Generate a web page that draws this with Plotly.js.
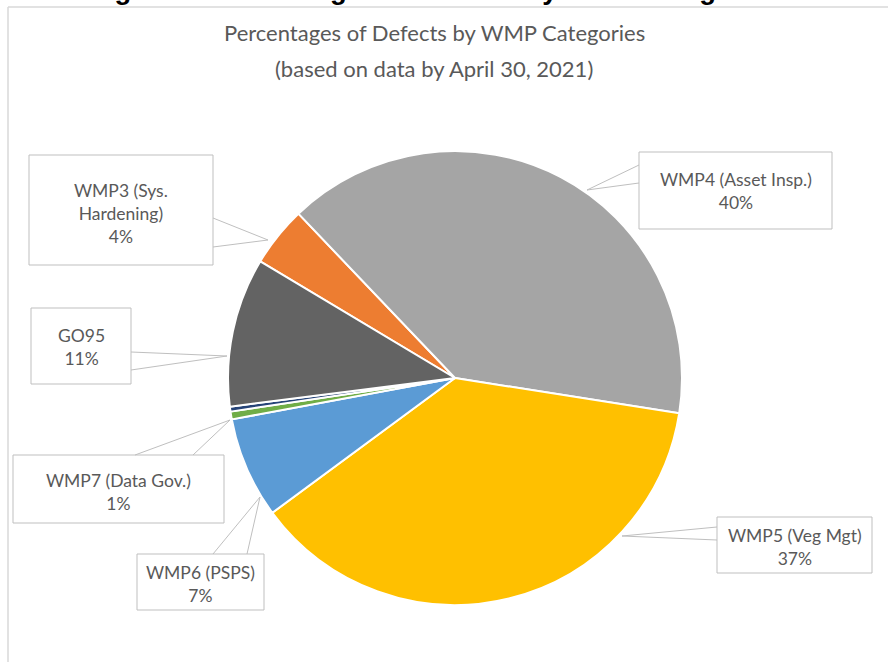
<!DOCTYPE html>
<html>
<head>
<meta charset="utf-8">
<script src="https://cdn.plot.ly/plotly-3.0.1.min.js"></script>
<style>
html,body{margin:0;padding:0;background:#fff;}
#chart{width:888px;height:662px;}
</style>
</head>
<body>
<div id="chart"></div>
<script>
// ---- data ----
const categories = ["WMP3 (Sys. Hardening)", "WMP4 (Asset Insp.)", "WMP5 (Veg Mgt)", "WMP6 (PSPS)", "WMP7 (Data Gov.)", "Other", "GO95"];
const labelLines = [["WMP3 (Sys.", "Hardening)"], ["WMP4 (Asset Insp.)"], ["WMP5 (Veg Mgt)"], ["WMP6 (PSPS)"], ["WMP7 (Data Gov.)"], [], ["GO95"]];
const values = [4.3, 39.6, 37.4, 7.2, 0.55, 0.35, 10.6];
const colors = ["#ED7D31", "#A5A5A5", "#FFC000", "#5B9BD5", "#70AD47", "#264478", "#636363"];
const titleLines = ["Percentages of Defects by WMP Categories", "(based on data by April 30, 2021)"];
const caption = "Figure 4: Percentages of Defects by WMP Categories";

// ---- layout helpers (pixel -> paper) ----
const W = 888, H = 662;
const px = x => x / W;
const py = y => 1 - y / H;

const total = values.reduce((a, b) => a + b, 0);
const pct = values.map(v => Math.round(v / total * 100) + "%");

// callout boxes: [x0, y0, x1, y1], text centre y, wedge base points, tip
const callouts = [
  {i: 0, box: [29, 155, 213, 265], ty: 213, base: [[213, 218], [213, 247]], tip: [268, 240]},
  {i: 1, box: [639, 152, 832, 229], ty: 191, base: [[639, 165], [639, 183]], tip: [587, 190]},
  {i: 2, box: [717, 517, 872, 573], ty: 547, base: [[717, 527], [717, 540]], tip: [622, 536]},
  {i: 3, box: [137, 554, 264, 610], ty: 584, base: [[213, 554], [247, 554]], tip: [260, 497]},
  {i: 4, box: [13, 455, 224, 523], ty: 492, base: [[135, 455], [193, 455]], tip: [230, 420]},
  {i: 6, box: [31, 308, 131, 384], ty: 347, base: [[131, 352], [131, 370]], tip: [227, 356]}
];

const shapes = [
  {type: "line", xref: "paper", yref: "paper", x0: px(8), x1: px(888), y0: py(7), y1: py(7), line: {color: "#D9D9D9", width: 1.5}},
  {type: "line", xref: "paper", yref: "paper", x0: px(8), x1: px(8), y0: py(7), y1: py(662), line: {color: "#D9D9D9", width: 1.5}}
];
const titleFont = {family: "Lato, 'Open Sans', sans-serif", size: 22, color: "#595959"};
const annotations = [
  {xref: "paper", yref: "paper", x: px(434), y: py(33), xanchor: "center", yanchor: "middle", showarrow: false,
   text: titleLines[0], font: titleFont},
  {xref: "paper", yref: "paper", x: px(434), y: py(68), xanchor: "center", yanchor: "middle", showarrow: false,
   text: titleLines[1], font: titleFont},
  {xref: "paper", yref: "paper", x: px(436), y: py(7), xanchor: "center", yanchor: "bottom", showarrow: false,
   text: "<b>" + caption + "</b>", font: {family: "'Liberation Sans', Arial, sans-serif", size: 27.5, color: "#000000"}}
];

callouts.forEach(c => {
  const [x0, y0, x1, y1] = c.box;
  shapes.push({type: "path", xref: "paper", yref: "paper",
    path: `M${px(c.base[0][0])},${py(c.base[0][1])} L${px(c.tip[0])},${py(c.tip[1])} L${px(c.base[1][0])},${py(c.base[1][1])}`,
    line: {color: "#BFBFBF", width: 1}});
  shapes.push({type: "rect", xref: "paper", yref: "paper", x0: px(x0), x1: px(x1), y0: py(y0), y1: py(y1),
    line: {color: "#BFBFBF", width: 1}, fillcolor: "rgba(255,255,255,0)"});
  const lines = labelLines[c.i].concat([pct[c.i]]);
  annotations.push({xref: "paper", yref: "paper", x: px((x0 + x1) / 2), y: py(c.ty), xanchor: "center", yanchor: "middle",
    showarrow: false, text: lines.join("<br>"), align: "center",
    font: {family: "Lato, 'Open Sans', sans-serif", size: 17.5, color: "#595959"}});
});

const cx = 455, cy = 378, r = 227;
const trace = {
  type: "pie",
  labels: categories,
  values: values,
  sort: false,
  direction: "clockwise",
  rotation: -59.1,
  textinfo: "none",
  hoverinfo: "label+percent",
  marker: {colors: colors, line: {color: "#FFFFFF", width: 2}},
  domain: {x: [px(cx - r), px(cx + r)], y: [py(cy + r), py(cy - r)]},
  showlegend: false
};

Plotly.newPlot("chart", [trace], {
  width: W, height: H,
  margin: {l: 0, r: 0, t: 0, b: 0},
  paper_bgcolor: "#FFFFFF",
  showlegend: false,
  shapes: shapes,
  annotations: annotations
}, {displayModeBar: false, staticPlot: true});
</script>
</body>
</html>
